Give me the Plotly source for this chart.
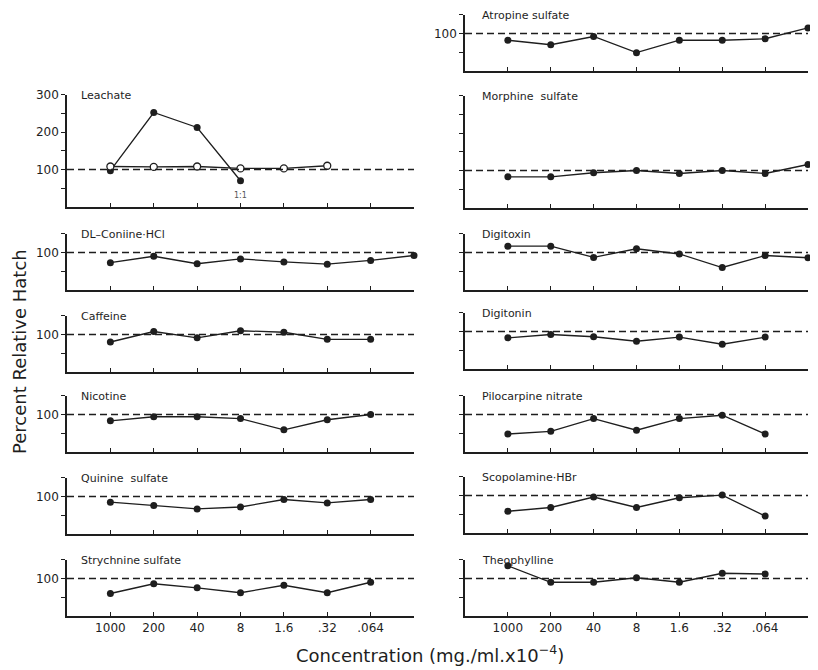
import plotly.graph_objects as go

# ---------------- data ----------------
conc_labels = ["1000", "200", "40", "8", "1.6", ".32", ".064"]

leachate_filled = [97, 252, 212, 70]
leachate_open = [108, 107, 108, 103, 103, 110]
coniine = [73, 90, 70, 83, 75, 69, 79, 92]
caffeine = [80, 108, 91, 110, 106, 87, 87]
nicotine = [83, 94, 94, 89, 59, 86, 100]
quinine = [85, 76, 67, 72, 92, 83, 92]
strychnine = [60, 86, 75, 62, 82, 62, 90]
atropine = [82, 70, 92, 49, 82, 82, 86, 115]
morphine = [83, 83, 94, 100, 92, 100, 92, 116]
digitoxin = [117, 117, 87, 110, 96, 60, 92, 86]
digitonin = [83, 92, 86, 74, 85, 66, 85]
pilocarpine = [48, 55, 89, 58, 89, 98, 48]
scopolamine = [58, 68, 96, 68, 94, 101, 45]
theophylline = [134, 90, 90, 102, 90, 114, 112]

# ---------------- layout helpers ----------------
PAGE_W, PAGE_H = 818, 670
OFF = 8                      # page body margin
W, H = PAGE_W - OFF, PAGE_H - OFF
PX_PER_UNIT = 0.375
COLS = {"L": (67, 414), "R": (465, 808)}
INK = "#1e1e1e"
FONT = "DejaVu Sans"


def fx(px):
    return (px - OFF) / W


def fy(py):
    return 1 - (py - OFF) / H


# (title, list of (series, style), column, bottom pixel, ymax, y labels, x labels)
panels = [
    ("Leachate", [(leachate_filled, "filled"), (leachate_open, "open")], "L", 207, 300, True, False),
    ("DL\u2013Coniine\u00b7HCl", [(coniine, "filled")], "L", 290, 150, True, False),
    ("Caffeine", [(caffeine, "filled")], "L", 372, 150, True, False),
    ("Nicotine", [(nicotine, "filled")], "L", 452, 150, True, False),
    ("Quinine  sulfate", [(quinine, "filled")], "L", 534, 150, True, False),
    ("Strychnine sulfate", [(strychnine, "filled")], "L", 616, 150, True, True),
    ("Atropine sulfate", [(atropine, "filled")], "R", 71, 150, True, False),
    ("Morphine  sulfate", [(morphine, "filled")], "R", 208, 300, False, False),
    ("Digitoxin", [(digitoxin, "filled")], "R", 290, 150, False, False),
    ("Digitonin", [(digitonin, "filled")], "R", 369, 150, False, False),
    ("Pilocarpine nitrate", [(pilocarpine, "filled")], "R", 452, 150, False, False),
    ("Scopolamine\u00b7HBr", [(scopolamine, "filled")], "R", 533, 150, False, False),
    ("Theophylline", [(theophylline, "filled")], "R", 616, 150, False, True),
]

fig = go.Figure()
layout = dict(
    width=W, height=H,
    margin=dict(l=0, r=0, t=0, b=0, autoexpand=False),
    paper_bgcolor="white", plot_bgcolor="white",
    showlegend=False,
    font=dict(family=FONT, color=INK),
)
shapes = []
annotations = []

for i, (title, series, col, bottom, ymax, ylab, xlab) in enumerate(panels):
    n = i + 1
    xa = "xaxis" if n == 1 else f"xaxis{n}"
    ya = "yaxis" if n == 1 else f"yaxis{n}"
    xr = "x" if n == 1 else f"x{n}"
    yr = "y" if n == 1 else f"y{n}"
    x0p, x1p = COLS[col]
    top = bottom - ymax * PX_PER_UNIT

    layout[xa] = dict(
        domain=[fx(x0p), fx(x1p)], range=[0, 8], anchor=yr, automargin=False,
        showline=True, linecolor=INK, linewidth=1.5,
        ticks="inside", ticklen=4, tickwidth=1.2, tickcolor=INK,
        tickvals=list(range(1, 9)),
        ticktext=(conc_labels + [""]) if xlab else [""] * 8,
        showticklabels=xlab, tickfont=dict(size=12, family=FONT),
        showgrid=False, zeroline=False, fixedrange=True,
    )
    yticks = list(range(50, ymax + 1, 50))
    layout[ya] = dict(
        domain=[fy(bottom), fy(top)], range=[0, ymax], anchor=xr, automargin=False,
        showline=True, linecolor=INK, linewidth=1.5,
        ticks="outside", ticklen=4, tickwidth=1.2, tickcolor=INK,
        tickvals=yticks,
        ticktext=[str(v) if (v % 100 == 0) else "" for v in yticks],
        showticklabels=ylab, tickfont=dict(size=12, family=FONT),
        showgrid=False, zeroline=False, fixedrange=True,
    )

    shapes.append(dict(type="line", xref=xr, yref=yr, x0=0, x1=8, y0=100, y1=100,
                       line=dict(color=INK, width=1.3, dash="7px,4px")))

    for vals, style in series:
        xs = list(range(1, len(vals) + 1))
        if style == "filled":
            marker = dict(size=7, color=INK, symbol="circle")
        else:
            marker = dict(size=7, color="white", symbol="circle",
                          line=dict(color=INK, width=1.3))
        fig.add_trace(go.Scatter(
            x=xs, y=vals, xaxis=xr, yaxis=yr, mode="lines+markers",
            line=dict(color=INK, width=1.3), marker=marker, cliponaxis=False,
            hoverinfo="y",
        ))

    annotations.append(dict(
        text=title, xref="paper", yref="paper",
        x=fx(x0p + (12 if col == "L" else 15)), y=fy(top + 1),
        xanchor="left", yanchor="middle", showarrow=False,
        font=dict(size=11, family=FONT, color=INK),
    ))

# "1:1" mark under the leachate curve
annotations.append(dict(text="1:1", xref="x", yref="y", x=4, y=30, showarrow=False,
                        font=dict(size=8, family=FONT, color="#555")))

annotations.append(dict(
    text="Percent Relative Hatch", xref="paper", yref="paper",
    x=fx(19), y=fy(352), textangle=-90, showarrow=False,
    xanchor="center", yanchor="middle", font=dict(size=18, family=FONT, color=INK),
))
annotations.append(dict(
    text="Concentration (mg./ml.x10<sup>\u22124</sup>)", xref="paper", yref="paper",
    x=fx(430), y=fy(654), showarrow=False,
    xanchor="center", yanchor="middle", font=dict(size=18, family=FONT, color=INK),
))

layout["shapes"] = shapes
layout["annotations"] = annotations
fig.update_layout(**layout)
fig.write_html("out.html")
